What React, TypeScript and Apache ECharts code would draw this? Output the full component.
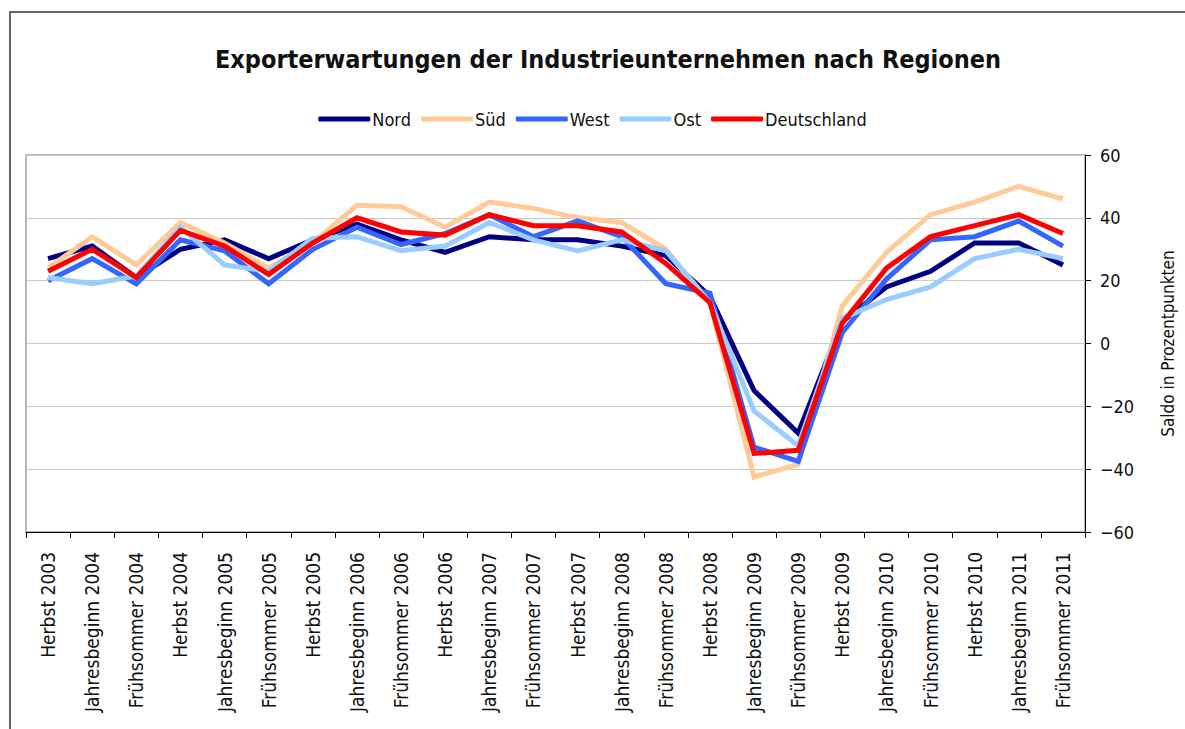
import React, { useEffect, useRef } from "react";
import * as echarts from "echarts";

const categories = [
  "Herbst 2003", "Jahresbeginn 2004", "Frühsommer 2004", "Herbst 2004",
  "Jahresbeginn 2005", "Frühsommer 2005", "Herbst 2005", "Jahresbeginn 2006",
  "Frühsommer 2006", "Herbst 2006", "Jahresbeginn 2007", "Frühsommer 2007",
  "Herbst 2007", "Jahresbeginn 2008", "Frühsommer 2008", "Herbst 2008",
  "Jahresbeginn 2009", "Frühsommer 2009", "Herbst 2009", "Jahresbeginn 2010",
  "Frühsommer 2010", "Herbst 2010", "Jahresbeginn 2011", "Frühsommer 2011",
];

const nord = [27, 31, 21, 30, 33, 27, 33, 38, 33, 29, 34, 33, 33, 31, 28, 15, -15, -28.5, 7, 18, 23, 32, 32, 25];
const sued = [24, 34, 25, 38.5, 32, 24, 32, 44, 43.5, 37, 45, 43, 40, 38.5, 30, 13, -42.5, -38.5, 12, 29, 41, 45, 50, 46];
const west = [20, 27, 19, 33, 29.5, 19, 30, 37, 31.5, 35, 41, 34, 39, 34, 19, 16, -33, -37.5, 3.5, 20.5, 33, 34, 39, 31];
const ost = [21, 19, 21.5, 37, 25, 23, 33.5, 34, 29.5, 31, 38.5, 33, 29.5, 33, 29.5, 13, -21.5, -32.5, 8, 14, 18, 27, 30, 27];
const deutschland = [23, 30, 21, 36, 31, 22, 32, 40, 35.5, 34.5, 41, 37.5, 37.5, 35.5, 25.5, 13, -35, -34, 6.5, 24, 34, 37.5, 41, 35];

const yTicks = { min: -60, max: 60, interval: 20 };

const FONT = "'DejaVu Sans Condensed', 'Liberation Sans Narrow', 'Open Sans', sans-serif";

export default function App() {
  const ref = useRef<HTMLDivElement>(null);
  useEffect(() => {
    if (!ref.current) return;
    const chart = echarts.init(ref.current, undefined, { renderer: "svg" });
    const mk = (name: string, data: number[], color: string) => ({
      name,
      type: "line",
      data,
      symbol: "none",
      lineStyle: { color, width: 5, join: "miter" },
      itemStyle: { color },
    });
    chart.setOption({
      animation: false,
      backgroundColor: "#ffffff",
      textStyle: { fontFamily: FONT },
      title: {
        text: "Exporterwartungen der Industrieunternehmen nach Regionen",
        left: 603,
        textAlign: "center",
        top: 42,
        textStyle: { fontFamily: FONT, fontSize: 25, fontWeight: "bold", color: "#111" },
      },
      legend: {
        top: 105,
        left: "center",
        itemWidth: 52,
        itemHeight: 5,
        itemGap: 10,
        icon: "roundRect",
        textStyle: { fontFamily: FONT, fontSize: 18, color: "#111", padding: [0, 0, 0, -3] },
        data: ["Nord", "Süd", "West", "Ost", "Deutschland"],
      },
      graphic: [
        {
          type: "rect",
          shape: { x: 10, y: 12, width: 1300, height: 900 },
          style: { fill: "none", stroke: "#333", lineWidth: 1.5 },
          silent: true,
        },
      ],
      grid: {
        left: 26,
        right: 100,
        top: 155,
        bottom: 197,
        show: true,
        borderColor: "#a0a0a0",
        borderWidth: 1.5,
      },
      xAxis: {
        type: "category",
        data: categories,
        boundaryGap: true,
        axisLine: { show: true, onZero: false, lineStyle: { color: "#000", width: 1 } },
        axisTick: { show: true, interval: 0, length: 6, lineStyle: { color: "#000" } },
        axisLabel: {
          interval: 0,
          rotate: 90,
          margin: 20,
          fontFamily: FONT,
          fontSize: 19,
          color: "#111",
        },
      },
      yAxis: {
        type: "value",
        position: "right",
        min: yTicks.min,
        max: yTicks.max,
        interval: yTicks.interval,
        name: "Saldo in Prozentpunkten",
        nameLocation: "middle",
        nameGap: 74,
        nameRotate: 90,
        nameTextStyle: { fontFamily: FONT, fontSize: 17, color: "#111" },
        axisLine: { show: true, lineStyle: { color: "#000", width: 1 } },
        axisTick: { show: true, inside: false, length: 6, lineStyle: { color: "#000" } },
        axisLabel: {
          fontFamily: FONT,
          fontSize: 18,
          color: "#111",
          margin: 15,
          formatter: (v: number) => (v < 0 ? "\u2212" + Math.abs(v) : String(v)),
        },
        splitLine: { show: true, lineStyle: { color: "#c8c8c8", width: 1 } },
      },
      series: [
        mk("Nord", nord, "#000080"),
        mk("Süd", sued, "#ffcc99"),
        mk("West", west, "#3366ff"),
        mk("Ost", ost, "#99ccff"),
        mk("Deutschland", deutschland, "#ff0000"),
      ],
    });
    return () => chart.dispose();
  }, []);
  return (
    <div
      ref={ref}
      style={{ position: "absolute", left: 0, top: 0, width: 1185, height: 729 }}
    />
  );
}
